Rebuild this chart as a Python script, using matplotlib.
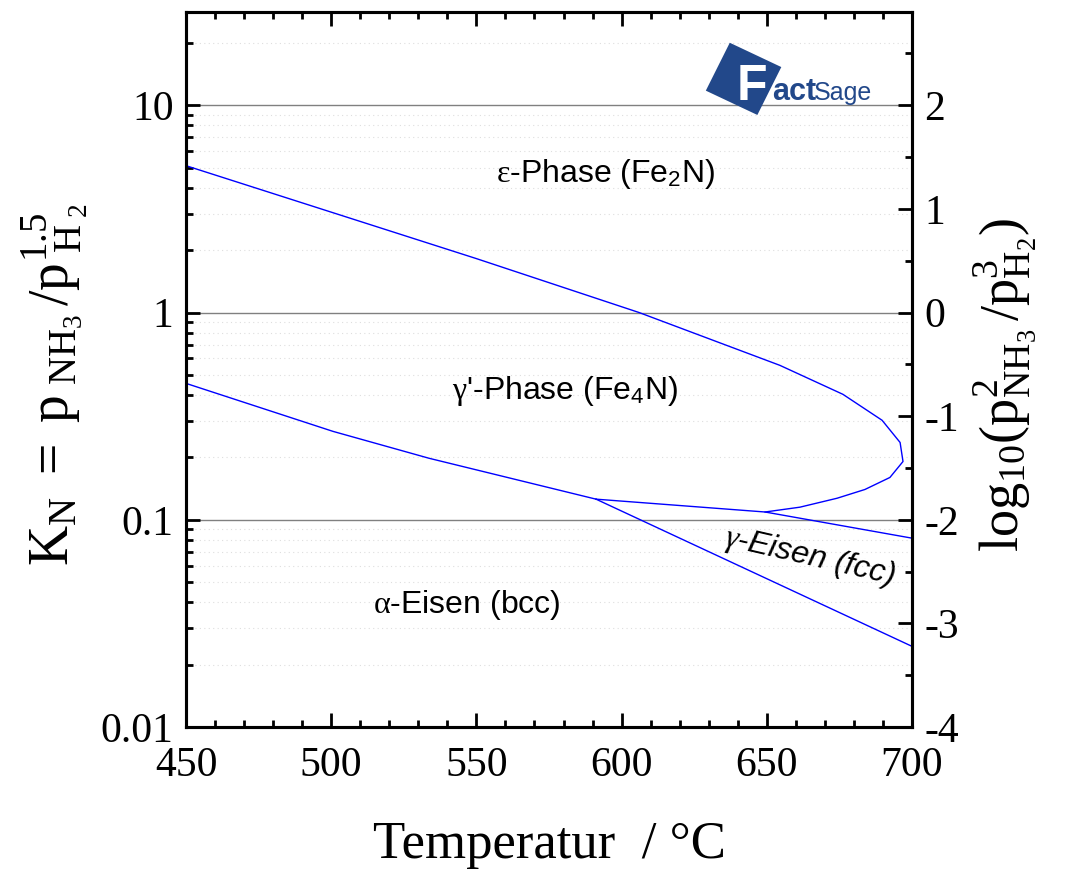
import numpy as np
import matplotlib
matplotlib.use('Agg')
from matplotlib import pyplot as plt
from matplotlib.patches import Polygon
from matplotlib.ticker import MultipleLocator, LogLocator, NullFormatter, FixedFormatter, FixedLocator

plt.rcParams['font.family'] = ['Liberation Serif', 'DejaVu Serif']
plt.rcParams['mathtext.fontset'] = 'custom'
plt.rcParams['mathtext.rm'] = 'Liberation Serif'
plt.rcParams['mathtext.it'] = 'Liberation Serif:italic'
plt.rcParams['mathtext.sf'] = 'Liberation Sans'
plt.rcParams['axes.unicode_minus'] = False

# phase boundaries, temperature in degC, K_N
eps_T = [450, 500, 550, 606, 654.5, 676.2, 689.7, 695.9, 696.9,
         692.4, 683.8, 674.2, 661.4, 649.4, 591.2]
eps_K = [5.11, 3.05, 1.82, 1.0, 0.556, 0.403, 0.302, 0.236, 0.191,
         0.160, 0.140, 0.127, 0.115, 0.109, 0.1257]
gam_T = [649.4, 700]
gam_K = [0.109, 0.0815]
alpha_gp_T = [450, 500.6, 533.7, 591.2]
alpha_gp_K = [0.455, 0.267, 0.198, 0.1257]
alpha_gam_T = [591.2, 700]
alpha_gam_K = [0.1257, 0.0245]

fig = plt.figure(figsize=(10.7, 8.74), dpi=100)
ax = fig.add_axes([186 / 1070, 147 / 874, 726 / 1070, 715 / 874])

line_kw = dict(color='#0000ff', lw=1.0)
ax.plot(eps_T, eps_K, **line_kw)
ax.plot(gam_T, gam_K, **line_kw)
ax.plot(alpha_gp_T, alpha_gp_K, **line_kw)
ax.plot(alpha_gam_T, alpha_gam_K, **line_kw)

ax.set_yscale('log')
ax.set_xlim(450, 700)
ax.set_ylim(0.01, 10 ** 1.45)

ax.yaxis.set_major_locator(FixedLocator([0.01, 0.1, 1, 10]))
ax.yaxis.set_major_formatter(FixedFormatter(['0.01', '0.1', '1', '10']))
ax.yaxis.set_minor_locator(LogLocator(base=10, subs=np.arange(2, 10)))
ax.yaxis.set_minor_formatter(NullFormatter())
ax.xaxis.set_major_locator(MultipleLocator(50))
ax.xaxis.set_minor_locator(MultipleLocator(10))

ax.grid(True, which='major', axis='y', color='#808080', lw=1.0)
ax.grid(True, which='minor', axis='y', color='#dedede', lw=0.8, ls=(0, (1, 3)))
ax.set_axisbelow(True)

for s in ax.spines.values():
    s.set_linewidth(2.2)

ax.tick_params(which='both', direction='in', top=True, right=False, width=2, labelsize=30)
ax.tick_params(which='major', length=10)
ax.tick_params(which='minor', length=5)
ax.tick_params(axis='y', pad=9)
ax.tick_params(axis='x', pad=14)

ax2 = ax.twinx()
ax2.set_ylim(-4, 2.9)
ax2.yaxis.set_major_locator(MultipleLocator(1))
ax2.yaxis.set_minor_locator(MultipleLocator(0.5))
ax2.tick_params(which='both', direction='in', width=2, labelsize=30, pad=9)
ax2.tick_params(which='major', length=10)
ax2.tick_params(which='minor', length=5)
for s in ax2.spines.values():
    s.set_linewidth(2.2)

ax.set_xlabel('Temperatur  / °C', fontsize=38, labelpad=26)
fig.text(55 / 1070, 1 - 385 / 874,
         r'$\mathrm{K_N\ =\ p_{\ NH_3}\,/p_{\ H_{\ 2}}^{1.5}}$',
         rotation=90, ha='center', va='center', fontsize=40)
fig.text(1005 / 1070, 1 - 385 / 874,
         r'$\mathrm{log_{10}(p^2_{NH_3}\,/p^3_{H_2})}$',
         rotation=90, ha='center', va='center', fontsize=39)

sans = ['Liberation Sans', 'DejaVu Sans']
ax.text(594.6, 4.68, r'$\mathrm{\varepsilon}$-Phase (Fe$_\mathsf{2}$N)',
        family=sans, fontsize=23, ha='center', va='center')
ax.text(580.5, 0.416, r"$\mathrm{\gamma}$'-Phase (Fe$_\mathsf{4}$N)",
        family=sans, fontsize=23, ha='center', va='center')
ax.text(546.8, 0.0387, r'$\mathrm{\alpha}$-Eisen (bcc)',
        family=sans, fontsize=23, ha='center', va='center')
ax.text(664.9, 0.0659, r'$\gamma$-Eisen (fcc)', family=sans, style='italic',
        fontsize=23, ha='center', va='center', rotation=-13, rotation_mode='anchor')

# FactSage logo
logo_blue = '#22488a'
sq = Polygon([(0.749, 0.957), (0.716, 0.890), (0.787, 0.856), (0.820, 0.923)],
             closed=True, transform=ax.transAxes, facecolor=logo_blue,
             edgecolor='none', zorder=5)
ax.add_patch(sq)
ax.text(0.759, 0.877, 'F', transform=ax.transAxes, color='white', family=sans,
        weight='bold', fontsize=36, ha='left', va='baseline', zorder=6)
ax.text(0.808, 0.877, 'act', transform=ax.transAxes, color=logo_blue, family=sans,
        weight='bold', fontsize=22, ha='left', va='baseline', zorder=6)
ax.text(0.865, 0.877, 'Sage', transform=ax.transAxes, color=logo_blue, family=sans,
        fontsize=18, ha='left', va='baseline', zorder=6)

fig.savefig('out.png', dpi=100)
